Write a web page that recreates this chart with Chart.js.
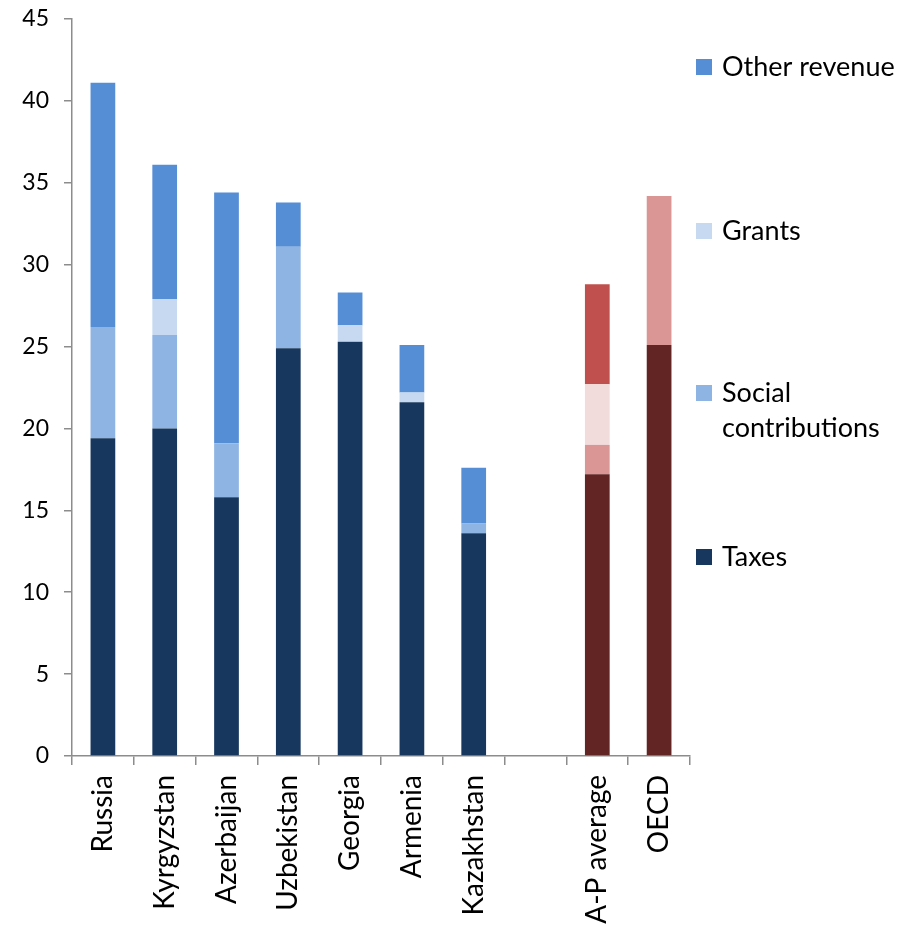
<!DOCTYPE html>
<html>
<head>
<meta charset="utf-8">
<script src="https://cdn.jsdelivr.net/npm/chart.js@4"></script>
<style>
  html, body { margin: 0; padding: 0; background: #ffffff; }
  #wrap { width: 902px; height: 931px; position: relative; }
</style>
</head>
<body>
<div id="wrap"><canvas id="c" width="902" height="931"></canvas></div>
<script>
// General government revenue, % of GDP
const categories = ['Russia', 'Kyrgyzstan', 'Azerbaijan', 'Uzbekistan', 'Georgia', 'Armenia', 'Kazakhstan', '', 'A-P average', 'OECD'];
const taxes        = [19.4, 20.0, 15.8, 24.9, 25.3, 21.6, 13.6, null, 17.2, 25.1];
const social       = [6.8, 5.7, 3.3, 6.2, 0, 0, 0.6, null, 1.8, 9.1];
const grants       = [0, 2.2, 0, 0, 1.0, 0.6, 0, null, 3.7, 0];
const otherRevenue = [14.9, 8.2, 15.3, 2.7, 2.0, 2.9, 3.4, null, 6.1, 0];
// comparison groups are shown in red tones
const isBenchmark  = [false, false, false, false, false, false, false, false, true, true];
const yTicks = [0, 5, 10, 15, 20, 25, 30, 35, 40, 45];

const palette = {
  taxes:  { main: '#17375E', bench: '#632523' },
  social: { main: '#8EB4E3', bench: '#D99694' },
  grants: { main: '#C6D9F1', bench: '#F2DCDB' },
  other:  { main: '#558ED5', bench: '#C0504D' }
};
const colorsFor = key => isBenchmark.map(b => b ? palette[key].bench : palette[key].main);

const FONT = 'Lato, "Open Sans", sans-serif';

const datasets = [
  { label: 'Taxes', data: taxes, backgroundColor: colorsFor('taxes') },
  { label: 'Social contributions', data: social, backgroundColor: colorsFor('social') },
  { label: 'Grants', data: grants, backgroundColor: colorsFor('grants') },
  { label: 'Other revenue', data: otherRevenue, backgroundColor: colorsFor('other') }
].map(d => Object.assign(d, { barPercentage: 0.4, categoryPercentage: 1.0, borderWidth: 0 }));

// Legend: entries spread down the right side, top entry first
const legendEntries = [
  { lines: ['Other revenue'], color: palette.other.main, y: 67 },
  { lines: ['Grants'], color: palette.grants.main, y: 231 },
  { lines: ['Social', 'contributions'], color: palette.social.main, y: 393 },
  { lines: ['Taxes'], color: palette.taxes.main, y: 557 }
];

const sideLegend = {
  id: 'sideLegend',
  afterDraw(chart) {
    const ctx = chart.ctx;
    const x0 = chart.chartArea.right + 6;
    ctx.save();
    ctx.font = '27px ' + FONT;
    ctx.textBaseline = 'middle';
    ctx.fillStyle = '#000000';
    legendEntries.forEach(e => {
      ctx.fillStyle = e.color;
      ctx.fillRect(x0, e.y - 8, 16, 16);
      ctx.fillStyle = '#000000';
      e.lines.forEach((t, i) => ctx.fillText(t, x0 + 26, e.y + i * 35));
    });
    ctx.restore();
  }
};

new Chart(document.getElementById('c'), {
  type: 'bar',
  data: { labels: categories, datasets },
  options: {
    responsive: false,
    animation: false,
    layout: { padding: { top: 19, right: 212, left: 0, bottom: 0 } },
    plugins: { legend: { display: false }, tooltip: { enabled: false } },
    scales: {
      x: {
        stacked: true,
        grid: { display: true, drawOnChartArea: false, offset: true, tickLength: 9, color: '#8c8c8c', lineWidth: 1.5 },
        border: { display: true, color: '#8c8c8c', width: 1.5 },
        ticks: { minRotation: 90, maxRotation: 90, padding: 10, color: '#000000', font: { family: FONT, size: 28 } },
        afterFit: s => { s.height = 175; }
      },
      y: {
        stacked: true,
        min: 0, max: 45,
        afterBuildTicks: s => { s.ticks = yTicks.map(v => ({ value: v })); },
        grid: { display: true, drawOnChartArea: false, tickLength: 8, color: '#8c8c8c', lineWidth: 1.5 },
        border: { display: true, color: '#8c8c8c', width: 1.5 },
        ticks: { padding: 15, color: '#000000', font: { family: FONT, size: 23 } },
        afterFit: s => { s.width = 72; s.paddingTop = 0; s.paddingBottom = 0; }
      }
    }
  },
  plugins: [sideLegend]
});
</script>
</body>
</html>
